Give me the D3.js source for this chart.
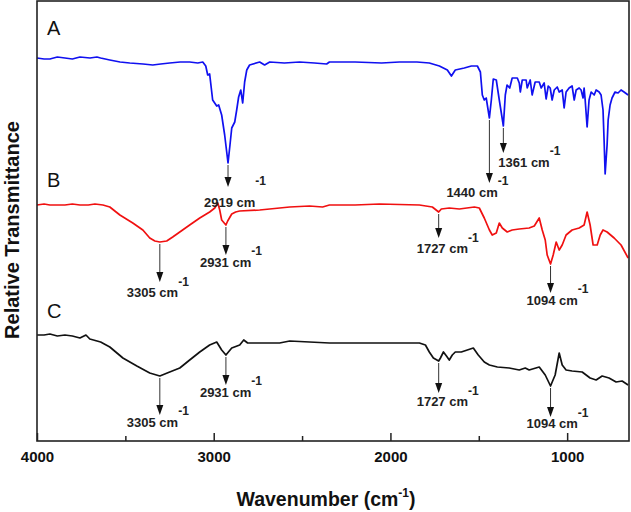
<!DOCTYPE html>
<html>
<head>
<meta charset="utf-8">
<script src="https://cdn.jsdelivr.net/npm/d3@7"></script>
<style>
  body { margin: 0; background: #fff; }
  svg text { font-family: "Liberation Sans", Arial, sans-serif; }
</style>
</head>
<body>
<div id="chart"></div>
<script>
// FTIR spectra, relative transmittance (arbitrary units, traces offset)
var wnA = [4000,3960,3927,3885,3842,3800,3757,3700,3661,3640,3588,3530,3475,3400,3345,3300,3249,3190,3136,3090,3062,3045,3034,3023,3006,2983,2972,2955,2938,2919,2908,2898,2881,2870,2859,2847,2836,2825,2813,2797,2740,2712,2683,2600,2514,2430,2361,2345,2200,2050,1949,1850,1780,1723,1678,1655,1633,1582,1542,1508,1491,1480,1469,1458,1440,1429,1418,1401,1384,1361,1350,1340,1325,1311,1282,1271,1265,1254,1232,1226,1209,1198,1181,1158,1147,1130,1119,1107,1096,1085,1073,1056,1045,1028,1017,1006,989,972,960,949,932,921,910,904,898,887,876,864,847,836,819,808,797,791,785,774,768,757,746,729,712,695,678,655];
var tA  = [383,382,382,384,383,382,384,383,384,383,381,379,378,377,376,377,378,379,379,378,379,375,366,367,341,335,336,326,306,278,296,313,319,331,344,351,338,359,371,376,379,376,379,378,379,378,377,379,379,378,379,379,378,375,371,365,371,373,375,375,369,346,341,343,323,341,362,361,341,315,346,356,353,363,363,358,349,361,361,353,361,346,359,359,353,358,342,355,353,341,351,354,349,351,333,349,353,355,341,351,353,351,343,353,341,314,341,349,346,351,349,346,331,301,267,296,321,336,343,349,348,351,349,346];

var wnB = [4000,3960,3927,3885,3842,3800,3757,3710,3672,3627,3588,3531,3458,3401,3362,3333,3305,3266,3232,3192,3136,3079,3023,2994,2977,2966,2955,2931,2921,2898,2876,2853,2740,2570,2458,2384,2345,2200,2062,1836,1763,1727,1712,1667,1610,1525,1497,1469,1440,1424,1401,1384,1367,1339,1311,1271,1215,1186,1158,1141,1124,1113,1094,1079,1062,1045,1028,1006,972,932,904,887,870,853,830,813,797,774,734,695,655];
var tB  = [236,237,236,236,236,237,236,236,237,236,234,226,218,211,203,200,199,200,204,209,216,223,229,233,238,231,221,216,220,227,229,230,231,234,235,234,236,236,237,236,234,229,232,233,232,234,233,223,211,206,208,218,213,209,211,212,213,215,223,211,201,186,177,186,199,191,196,206,211,213,216,229,216,196,196,206,211,209,203,196,183];

var wnC = [4000,3960,3927,3885,3842,3800,3757,3723,3701,3640,3588,3514,3435,3362,3305,3249,3192,3136,3079,3023,2983,2955,2931,2898,2853,2830,2808,2768,2627,2570,2458,2345,2200,2062,1836,1802,1780,1757,1727,1717,1700,1683,1667,1650,1633,1599,1565,1531,1503,1469,1440,1395,1328,1271,1237,1215,1158,1124,1094,1068,1045,1028,1006,972,915,870,836,802,763,723,689,655];
var tC  = [106,106,107,105,106,105,103,106,102,99,94,83,75,68,65,69,73,81,89,96,99,91,86,93,96,101,98,98,98,100,99,98,98,98,98,96,89,83,80,83,89,85,81,86,89,89,91,93,86,79,76,74,73,71,73,71,74,66,55,66,88,76,71,70,69,63,61,65,63,59,60,56];

var seriesNames = ["A", "B", "C"];
var seriesColors = ["#1010f0", "#f01010", "#111111"];

// marked bands: series, wavenumber, value at arrow start, value at arrow tip
var peakSeries = ["A","A","A","B","B","B","B","C","C","C","C"];
var peakWn     = [2919,1440,1361,3305,2931,1727,1094,3305,2931,1727,1094];
var peakFrom   = [276,321,313,197,214,227,175,63,84,78,53];
var peakTo     = [254,258,288,159,186,203,148,26,56,48,24];

var xTicksMajor = [4000,3000,2000,1000];
var xTicksMinor = [3500,2500,1500];

var margin = {top: 1, right: 2, bottom: 71, left: 37},
    width = 631 - margin.left - margin.right,
    height = 512 - margin.top - margin.bottom;

var svg = d3.select("#chart").append("svg")
  .attr("width", 631)
  .attr("height", 512);
var chartArea = svg.append("g")
  .attr("transform", "translate(" + margin.left + "," + margin.top + ")");

var x = d3.scaleLinear().domain([4000, 650]).range([0, width]);
var y = d3.scaleLinear().domain([0, 440]).range([height, 0]);

// spectra
var traces = [
  {name: "A", wn: wnA, t: tA},
  {name: "B", wn: wnB, t: tB},
  {name: "C", wn: wnC, t: tC}
];
var line = d3.line()
  .x(function(d) { return x(d[0]); })
  .y(function(d) { return y(d[1]); });

traces.forEach(function(s, i) {
  var pts = s.wn.map(function(w, j) { return [w, s.t[j]]; });
  chartArea.append("path")
    .datum(pts)
    .attr("fill", "none")
    .attr("stroke", seriesColors[i])
    .attr("stroke-width", 1.7)
    .attr("stroke-linejoin", "round")
    .attr("d", line);
});

// panel letters
var letterY = [406, 254, 123];
seriesNames.forEach(function(n, i) {
  chartArea.append("text")
    .attr("x", 10)
    .attr("y", y(letterY[i]))
    .attr("font-size", 20)
    .attr("fill", "#111")
    .text(n);
});

// arrows and band labels (dx: label start from arrow, dy: baseline below tip)
var labelDx = [-24,-43,-5,-33,-26,-22,-24,-33,-26,-22,-24];
var labelDy = [20,14,14,15,12,15,12,12,12,13,11];
var supDy   = [-22,-12,-12,-11,-12,-11,-12,-12,-12,-11,-11];

peakWn.forEach(function(w, i) {
  var px = x(w), y0 = y(peakFrom[i]), y1 = y(peakTo[i]);
  chartArea.append("line")
    .attr("x1", px).attr("x2", px)
    .attr("y1", y0).attr("y2", y1 - 8)
    .attr("stroke", "#333")
    .attr("stroke-width", 1);
  chartArea.append("path")
    .attr("d", "M" + (px - 3.5) + "," + (y1 - 10) + "L" + (px + 3.5) + "," + (y1 - 10) + "L" + px + "," + y1 + "Z")
    .attr("fill", "#111");
  var t = chartArea.append("text")
    .attr("x", px + labelDx[i])
    .attr("y", y1 + labelDy[i])
    .attr("font-size", 13)
    .attr("font-weight", "bold")
    .attr("fill", "#222")
    .text(w + " cm");
  t.append("tspan")
    .attr("dx", 0)
    .attr("dy", supDy[i])
    .attr("font-size", 12)
    .text("-1");
});

// frame
chartArea.append("rect")
  .attr("x", 0).attr("y", 0)
  .attr("width", width).attr("height", height)
  .attr("fill", "none")
  .attr("stroke", "#222")
  .attr("stroke-width", 1.6);

// x axis
var xAxis = d3.axisBottom(x)
  .tickValues(xTicksMajor)
  .tickSize(-8)
  .tickPadding(10)
  .tickFormat(d3.format("d"));
var gx = chartArea.append("g")
  .attr("transform", "translate(0," + height + ")")
  .call(xAxis);
gx.select(".domain").remove();
gx.selectAll("line").attr("stroke", "#222").attr("stroke-width", 1.5);
gx.selectAll("text")
  .attr("font-size", 15)
  .attr("font-weight", "bold")
  .attr("fill", "#111");

var gxMinor = chartArea.append("g")
  .attr("transform", "translate(0," + height + ")")
  .call(d3.axisBottom(x).tickValues(xTicksMinor).tickSize(-5).tickFormat(""));
gxMinor.select(".domain").remove();
gxMinor.selectAll("line").attr("stroke", "#222").attr("stroke-width", 1.5);

// axis titles
var xTitle = svg.append("text")
  .attr("x", 326)
  .attr("y", 506)
  .attr("text-anchor", "middle")
  .attr("font-size", 19.5)
  .attr("font-weight", "bold")
  .attr("fill", "#111")
  .text("Wavenumber (cm");
xTitle.append("tspan").attr("dy", -9).attr("font-size", 12).text("-1");
xTitle.append("tspan").attr("dy", 9).text(")");

svg.append("text")
  .attr("transform", "translate(19,230) rotate(-90)")
  .attr("text-anchor", "middle")
  .attr("font-size", 20)
  .attr("font-weight", "bold")
  .attr("fill", "#111")
  .text("Relative Transmittance");
</script>
</body>
</html>
